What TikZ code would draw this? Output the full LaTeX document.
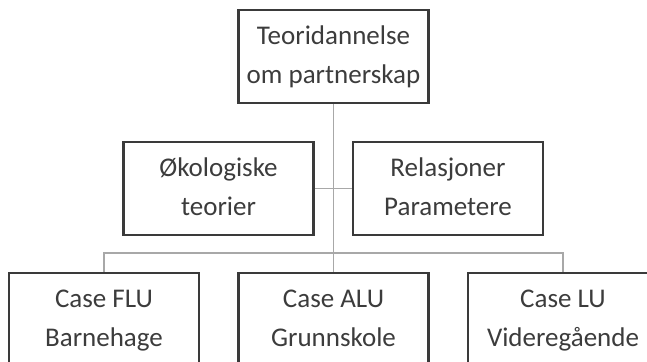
\documentclass[tikz,border=0pt]{standalone}
\usepackage{fontspec}
\setmainfont{Carlito}
\begin{document}
\begin{tikzpicture}[x=1pt,y=-1pt,
  box/.style={draw=boxc,line width=2.6pt,minimum width=190pt,minimum height=93pt,
    inner sep=0pt,align=center,text=textc,font=\fontsize{27}{38.5}\selectfont},
  conn/.style={draw=linec,line width=1.3pt}]
\definecolor{boxc}{HTML}{3A3A3A}
\definecolor{textc}{HTML}{3C3C3C}
\definecolor{linec}{HTML}{A8A8A8}
\useasboundingbox (0,0) rectangle (647,361);
\node[box] (top) at (333.5,56.5) {\strut Teoridannelse\\\strut om partnerskap};
\node[box] (oko) at (218.5,188.5) {\strut Økologiske\\\strut teorier};
\node[box] (rel) at (448,188.5) {\strut Relasjoner\\\strut Parametere};
\node[box] (flu) at (104,319.5) {\strut Case FLU\\\strut Barnehage};
\node[box] (alu) at (333.5,319.5) {\strut Case ALU\\\strut Grunnskole};
\node[box] (lu) at (563,319.5) {\strut Case LU\\\strut Videregående};
\coordinate (bus) at (333.5,253);
\draw[conn] (top.south) -- (alu.north);
\draw[conn] (oko.east) -- (rel.west);
\draw[conn] (flu.north) |- (bus) -| (lu.north);
\end{tikzpicture}
\end{document}
